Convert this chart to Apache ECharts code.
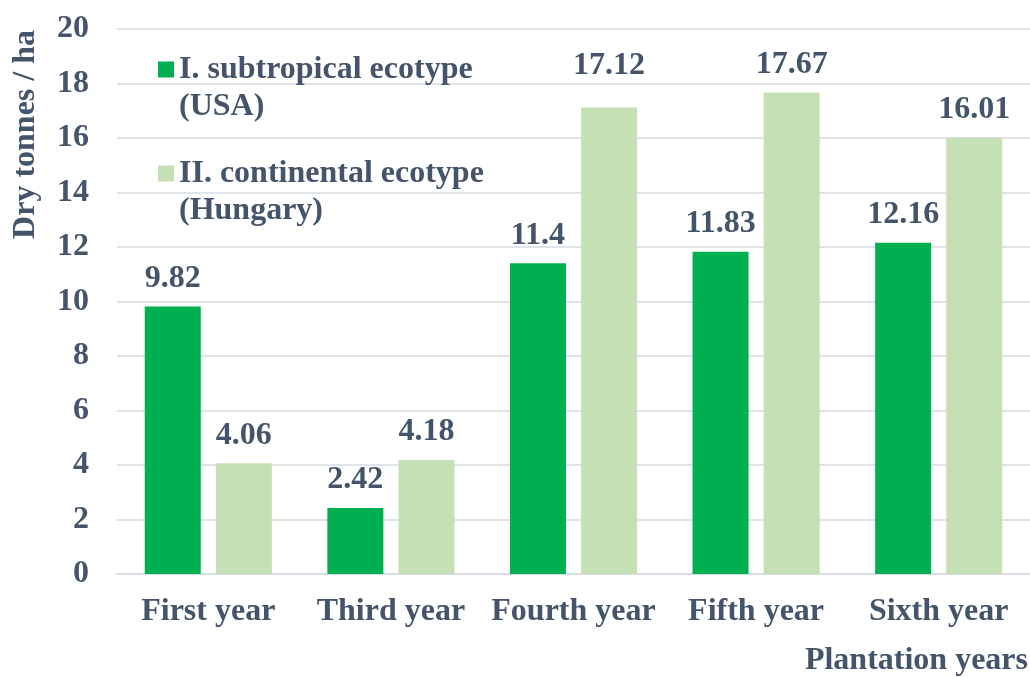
<!DOCTYPE html>
<html>
<head>
<meta charset="utf-8">
<script src="https://cdn.jsdelivr.net/npm/echarts@6/dist/echarts.min.js"></script>
<style>html,body{margin:0;padding:0;background:#fff}#c{width:1030px;height:677px}</style>
</head>
<body>
<div id="c"></div>
<script>
const categories = ['First year', 'Third year', 'Fourth year', 'Fifth year', 'Sixth year'];
const seriesNames = ['I. subtropical ecotype\n(USA)', 'II. continental ecotype\n(Hungary)'];
const subtropical = [9.82, 2.42, 11.4, 11.83, 12.16];
const continental = [4.06, 4.18, 17.12, 17.67, 16.01];
const yTicks = { min: 0, max: 20, interval: 2 };
const yAxisTitle = 'Dry tonnes / ha';
const xAxisTitle = 'Plantation years';

const TXT = '#44546a';
const FONT = 'Liberation Serif';
const chart = echarts.init(document.getElementById('c'));
const labelStyle = {
  show: true, position: 'top', distance: 12,
  color: TXT, fontFamily: FONT, fontWeight: 'bold', fontSize: 32
};
// legend icon: 16x16 square at the top of a taller box so it lines up with the first text line
const legendIcon = 'path://M0,0H16V16H0Z M0,53';
chart.setOption({
  animation: false,
  grid: { left: 117, right: -1, top: 29, bottom: 103, containLabel: false },
  legend: {
    orient: 'vertical', left: 158, top: 51, padding: 0,
    itemWidth: 16, itemHeight: 53, itemGap: 30,
    icon: legendIcon,
    textStyle: {
      color: TXT, fontFamily: FONT, fontWeight: 'bold', fontSize: 32,
      lineHeight: 37
    },
    data: seriesNames
  },
  xAxis: {
    type: 'category', data: categories,
    axisTick: { show: false },
    axisLine: { lineStyle: { color: '#d9dee6', width: 2 } },
    axisLabel: { interval: 0, color: TXT, fontFamily: FONT, fontWeight: 'bold', fontSize: 32, margin: 22 }
  },
  yAxis: {
    type: 'value', min: yTicks.min, max: yTicks.max, interval: yTicks.interval,
    axisLine: { show: false }, axisTick: { show: false },
    splitLine: { lineStyle: { color: '#dfe3ea', width: 2 } },
    axisLabel: { color: TXT, fontFamily: FONT, fontWeight: 'bold', fontSize: 32, margin: 28 }
  },
  graphic: [
    { type: 'text', left: 10, top: 30, rotation: Math.PI / 2,
      style: { text: yAxisTitle, fill: TXT, font: 'bold 32px "Liberation Serif"' } },
    { type: 'text', right: 2, top: 645,
      style: { text: xAxisTitle, fill: TXT, font: 'bold 32px "Liberation Serif"' } }
  ],
  series: [
    { name: seriesNames[0], type: 'bar', data: subtropical, barWidth: 56, barGap: '27%',
      itemStyle: { color: '#00b050' }, label: labelStyle },
    { name: seriesNames[1], type: 'bar',
      data: continental.map((v, i) => i === 2 ? { value: v, label: { distance: 26 } } : v),
      barWidth: 56, barGap: '27%',
      itemStyle: { color: '#c5e0b4' }, label: labelStyle }
  ]
});
</script>
</body>
</html>
